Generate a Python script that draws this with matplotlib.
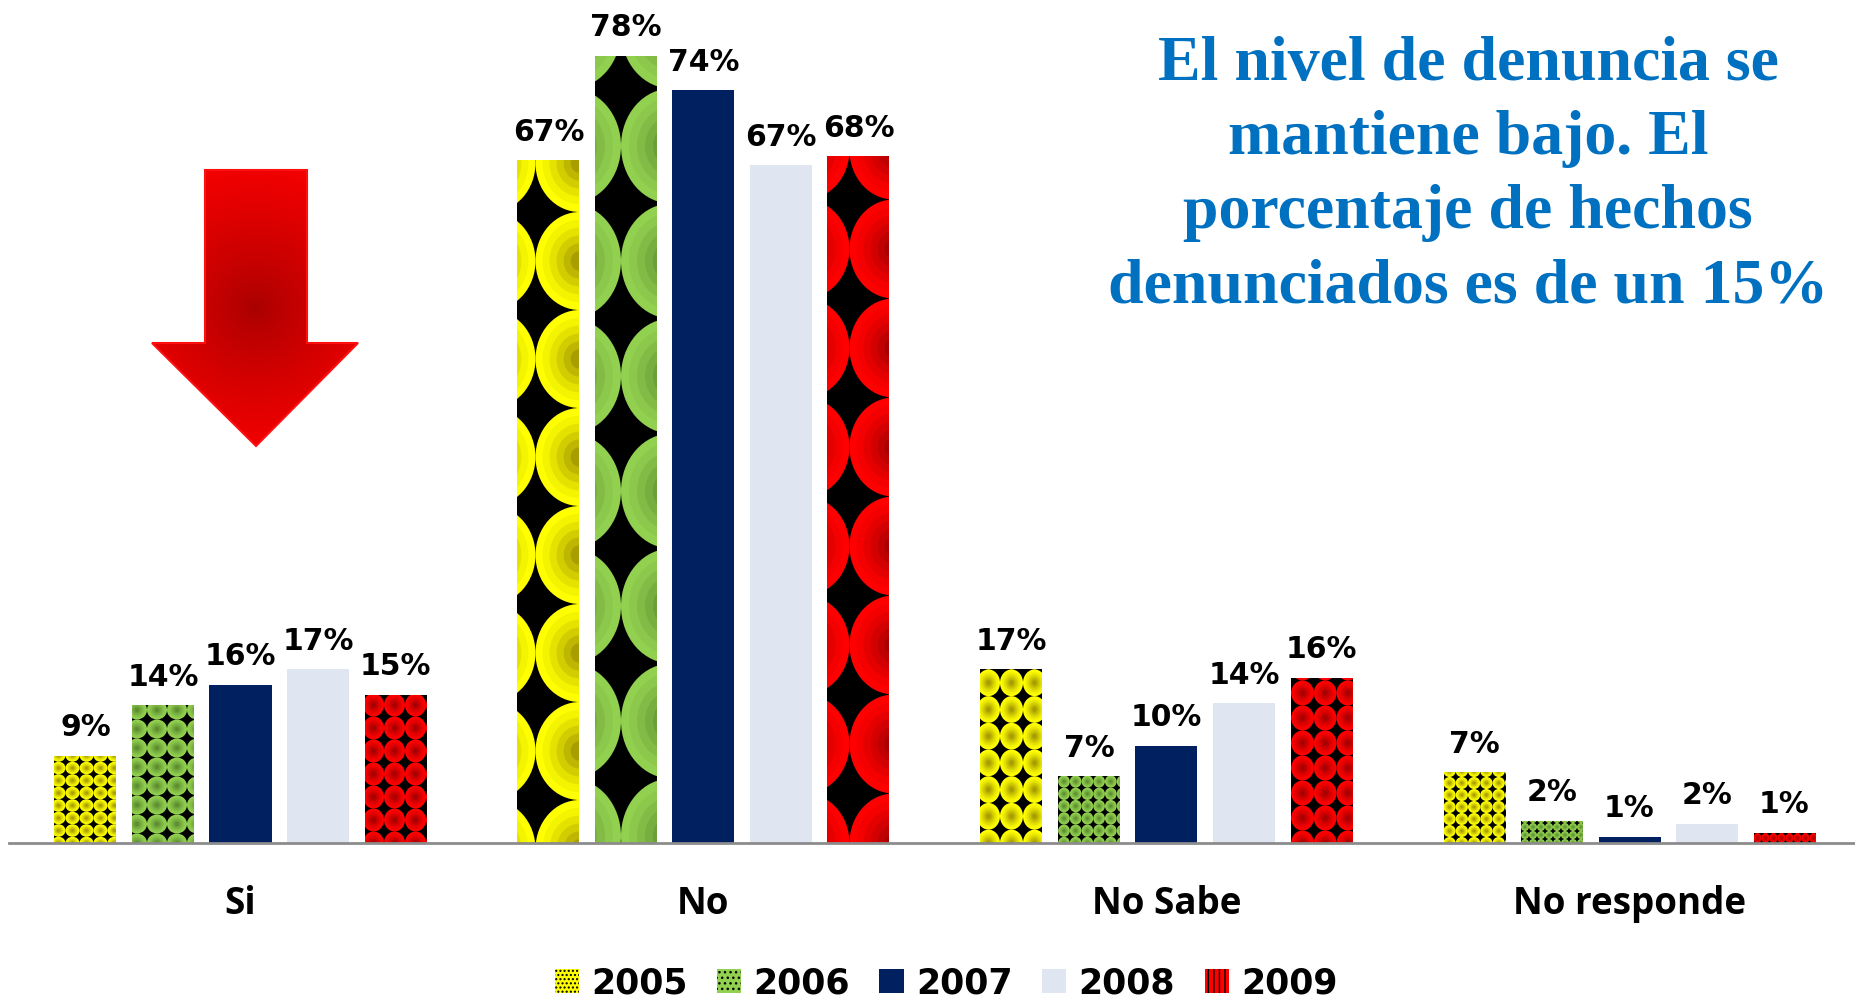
import numpy as np
import matplotlib
matplotlib.use("Agg")
import matplotlib.pyplot as plt
from matplotlib.collections import EllipseCollection
from matplotlib.patches import Patch, Polygon
from matplotlib.colors import to_rgb

# datos
categorias = ["Si", "No", "No Sabe", "No responde"]
anios = ["2005", "2006", "2007", "2008", "2009"]
v2005 = [8.6, 67.3, 17.1, 7.0]
v2006 = [13.6, 77.6, 6.6, 2.2]
v2007 = [15.6, 74.2, 9.6, 0.6]
v2008 = [17.1, 66.8, 13.8, 1.9]
v2009 = [14.6, 67.7, 16.3, 1.0]
series = [v2005, v2006, v2007, v2008, v2009]

colores = ["#FFFF00", "#92D050", "#002060", "#DFE6F2", "#FF0000"]
centros = ["#A89E00", "#5E8E30", None, None, "#A80000"]

titulo = "El nivel de denuncia se\nmantiene bajo. El\nporcentaje de hechos\ndenunciados es de un 15%"

# tamaño de los circulos (px ancho, px alto, fase x, fase y) por categoria y serie con textura
texturas = {
    (0, 0): (14, 12.5, 4, 0), (0, 1): (20, 19, 5, 0), (0, 4): (21, 23, 9, 0),
    (1, 0): (88, 98, 62, -6), (1, 1): (100, 115, 76, 7), (1, 4): (88, 99, 66, 0),
    (2, 0): (23, 26.7, 8, 0), (2, 1): (11.7, 12.3, 6, 0), (2, 4): (22.7, 25, 12, 0),
    (3, 0): (12.3, 12, 6, 0), (3, 1): (8, 8, 4, 0), (3, 4): (8, 10, 4, 5),
}

W, H = 1856, 998
fig = plt.figure(figsize=(W / 100, H / 100), dpi=100)
ax = fig.add_axes([9 / W, (H - 843) / H, 1852 / W, 832 / H])
ax.set_xlim(-0.5, 3.5)
ax.set_ylim(0, 82)
sx = 1852 / 4.0
sy = 832 / 82.0

paso = 77.5 / sx
ancho = 62 / sx
x = np.arange(len(categorias))


def textura(bar, ci, si):
    tw, th, fx, fy = texturas[(ci, si)]
    x0 = bar.get_x()
    h = bar.get_height()
    xs = x0 + (fx + tw * np.arange(-2, int(62 / tw) + 3)) / sx
    ys = (fy + th * np.arange(-1, int(h * sy / th) + 3)) / sy
    gx, gy = np.meshgrid(xs, ys)
    offs = np.column_stack([gx.ravel(), gy.ravel()])
    c1 = np.array(to_rgb(colores[si]))
    c2 = np.array(to_rgb(centros[si]))
    for k, f in enumerate(np.linspace(1.0, 0.2, 6)):
        col = c1 + (c2 - c1) * (k / 5.0) ** 1.3
        ec = EllipseCollection(np.full(len(offs), tw * f), np.full(len(offs), th * f),
                               np.zeros(len(offs)), units="dots", offsets=offs,
                               offset_transform=ax.transData, facecolors=[col],
                               edgecolors="none", zorder=3)
        ax.add_collection(ec)
        ec.set_clip_path(bar)


for si, vals in enumerate(series):
    pos = x + (si - 2) * paso
    fc = "black" if centros[si] else colores[si]
    bars = ax.bar(pos, vals, ancho, color=fc, zorder=2, linewidth=0)
    for ci, b in enumerate(bars):
        if centros[si]:
            textura(b, ci, si)
        ax.annotate("%d%%" % round(vals[ci]), (pos[ci], vals[ci]), xytext=(0, 14),
                    textcoords="offset points", ha="center", va="baseline",
                    fontsize=21.5, fontweight="bold", family="DejaVu Sans", zorder=5)

for s in ["top", "left", "right"]:
    ax.spines[s].set_visible(False)
ax.spines["bottom"].set_color("#8C8C8C")
ax.spines["bottom"].set_linewidth(2)
ax.spines["bottom"].set_zorder(4)
ax.set_yticks([])
ax.set_xticks(x)
ax.set_xticklabels(categorias, fontsize=26.5, fontweight="bold", family="Open Sans")
ax.tick_params(axis="x", length=0, pad=30.5)

# flecha roja con degradado
ov = fig.add_axes([0, 0, 1, 1], zorder=5)
ov.set_xlim(0, W)
ov.set_ylim(H, 0)
ov.axis("off")
flecha = [(205, 170), (307, 170), (307, 343), (358, 343), (256, 446),
          (152, 343), (205, 343)]
poly = Polygon(flecha, closed=True, facecolor="none", edgecolor="#FF1010", lw=1.5)
ov.add_patch(poly)
gx, gy = np.meshgrid(np.arange(140, 370), np.arange(160, 456))
r = np.clip(np.hypot(gx - 255, gy - 307) / 170.0, 0, 1)
c_in = np.array(to_rgb("#A80000"))
c_out = np.array(to_rgb("#FF0000"))
img = c_in + (c_out - c_in) * r[..., None] ** 0.8
im = ov.imshow(img, extent=(140, 370, 456, 160), interpolation="bilinear")
im.set_clip_path(poly)
ov.set_xlim(0, W)
ov.set_ylim(H, 0)

fig.text(1468 / W, 1 - 176 / H, titulo, ha="center", va="center", fontsize=46,
         fontweight="bold", family="Liberation Serif", color="#0070C0", linespacing=1.37)

hatches = ["....", "...", None, None, "|||"]
handles = [Patch(facecolor=colores[i], edgecolor="black" if hatches[i] else colores[i],
                 hatch=hatches[i], linewidth=0) for i in range(5)]
fig.legend(handles, anios, loc="center", bbox_to_anchor=(946 / W, 1 - 983 / H), ncol=5,
           frameon=False, prop={"size": 25, "weight": "bold", "family": "DejaVu Sans"},
           handlelength=0.7, handleheight=0.7, handletextpad=0.35, columnspacing=0.85)

fig.savefig("out.png", dpi=100)
